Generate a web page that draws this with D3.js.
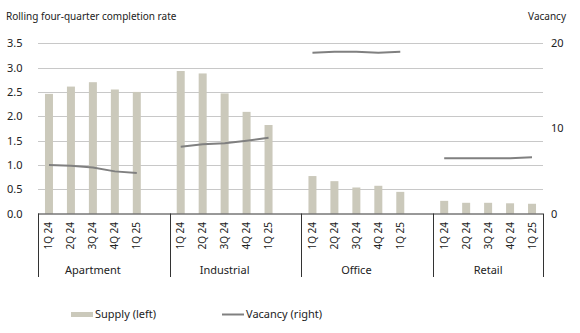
<!DOCTYPE html>
<html><head><meta charset="utf-8">
<script src="https://cdn.jsdelivr.net/npm/d3@7"></script>
<style>body{margin:0;background:#fff}svg{display:block}text{font-family:"Noto Sans",sans-serif;fill:#222}</style>
</head><body><svg id="c" width="580" height="333"></svg>
<script>
const groups = ["Apartment","Industrial","Office","Retail"];
const quarters = ["1Q 24","2Q 24","3Q 24","4Q 24","1Q 25"];
const supply = [
  [2.46,2.61,2.70,2.55,2.50],
  [2.93,2.88,2.47,2.09,1.82],
  [0.77,0.665,0.535,0.57,0.445],
  [0.26,0.22,0.22,0.21,0.20]
];
const vacancy = [
  [5.70,5.60,5.40,4.95,4.75],
  [7.85,8.15,8.25,8.55,8.90],
  [18.9,19.0,19.0,18.9,19.0],
  [6.5,6.5,6.5,6.5,6.6]
];
const leftTicks = [0,0.5,1,1.5,2,2.5,3,3.5];
const rightTicks = [0,10,20];

// slots: 5 quarters + blank in each group except last
const slots = [];
groups.forEach((g,gi)=>{
  quarters.forEach((q,qi)=>slots.push({g:gi,q:qi,key:g+"|"+q}));
  if(gi<groups.length-1) slots.push({g:gi,q:-1,key:g+"|blank"});
});

const svg = d3.select("#c");
const L=38, R=543, T=43.3, B=213.5;
const x = d3.scaleBand().domain(slots.map(s=>s.key)).range([L,R]).paddingInner(0).paddingOuter(0);
const yL = d3.scaleLinear().domain([0,3.5]).range([B,T]);
const yR = d3.scaleLinear().domain([0,20]).range([B,T]);

// gridlines
svg.append("g").selectAll("line").data(leftTicks.filter(d=>d>0)).join("line")
  .attr("x1",L).attr("x2",R).attr("y1",d=>Math.round(yL(d))+0.5).attr("y2",d=>Math.round(yL(d))+0.5)
  .attr("stroke","#c8c8c8").attr("stroke-width",1);

// left axis labels
svg.append("g").selectAll("text").data(leftTicks).join("text")
  .attr("x",7).attr("y",d=>yL(d)+4).attr("font-size",11).text(d=>d.toFixed(1));
// right axis labels
svg.append("g").selectAll("text").data(rightTicks).join("text")
  .attr("x",551).attr("y",d=>yR(d)+4).attr("font-size",11).text(d=>d);

svg.append("text").attr("x",6).attr("y",20).attr("font-size",10).text("Rolling four-quarter completion rate");
svg.append("text").attr("x",566).attr("y",20).attr("font-size",10).attr("text-anchor","end").text("Vacancy");

// bars
const bw = 8;
const barData = [];
supply.forEach((arr,gi)=>arr.forEach((v,qi)=>barData.push({key:groups[gi]+"|"+quarters[qi],v})));
svg.append("g").selectAll("rect").data(barData).join("rect")
  .attr("x",d=>x(d.key)+x.bandwidth()/2-bw/2).attr("width",bw)
  .attr("y",d=>yL(d.v)).attr("height",d=>B-yL(d.v)).attr("fill","#cbc9bb");

// vacancy lines
const line = d3.line().x(d=>x(d.key)+x.bandwidth()/2).y(d=>yR(d.v));
vacancy.forEach((arr,gi)=>{
  svg.append("path").datum(arr.map((v,qi)=>({key:groups[gi]+"|"+quarters[qi],v})))
    .attr("d",line).attr("fill","none").attr("stroke","#808080").attr("stroke-width",2);
});

// axis line
svg.append("line").attr("x1",L).attr("x2",R).attr("y1",B+0.5).attr("y2",B+0.5).attr("stroke","#333").attr("stroke-width",1);
// group separators
const sepX = [L];
groups.forEach((g,gi)=>{
  const last = slots.filter(s=>s.g===gi).slice(-1)[0];
  sepX.push(x(last.key)+x.bandwidth());
});
svg.append("g").selectAll("line").data(sepX).join("line")
  .attr("x1",d=>Math.round(d)+0.5).attr("x2",d=>Math.round(d)+0.5).attr("y1",B).attr("y2",277)
  .attr("stroke","#333").attr("stroke-width",1);

// quarter labels
svg.append("g").selectAll("text").data(barData).join("text")
  .attr("transform",d=>`translate(${x(d.key)+x.bandwidth()/2+3.5},222) rotate(-90)`)
  .attr("text-anchor","end").attr("font-size",10).text(d=>d.key.split("|")[1]);

// group labels
svg.append("g").selectAll("text").data(groups).join("text")
  .attr("x",(d,i)=>{const qs=slots.filter(s=>s.g===i&&s.q>=0);return (x(qs[0].key)+x(qs[4].key)+x.bandwidth())/2;})
  .attr("y",274).attr("text-anchor","middle").attr("font-size",11).text(d=>d);

// legend
svg.append("rect").attr("x",71).attr("y",312).attr("width",22).attr("height",5).attr("fill","#cbc9bb");
svg.append("text").attr("x",95).attr("y",318).attr("font-size",11).text("Supply (left)");
svg.append("line").attr("x1",222).attr("x2",244).attr("y1",314.5).attr("y2",314.5).attr("stroke","#808080").attr("stroke-width",2);
svg.append("text").attr("x",246).attr("y",318).attr("font-size",11).text("Vacancy (right)");
</script></body></html>
